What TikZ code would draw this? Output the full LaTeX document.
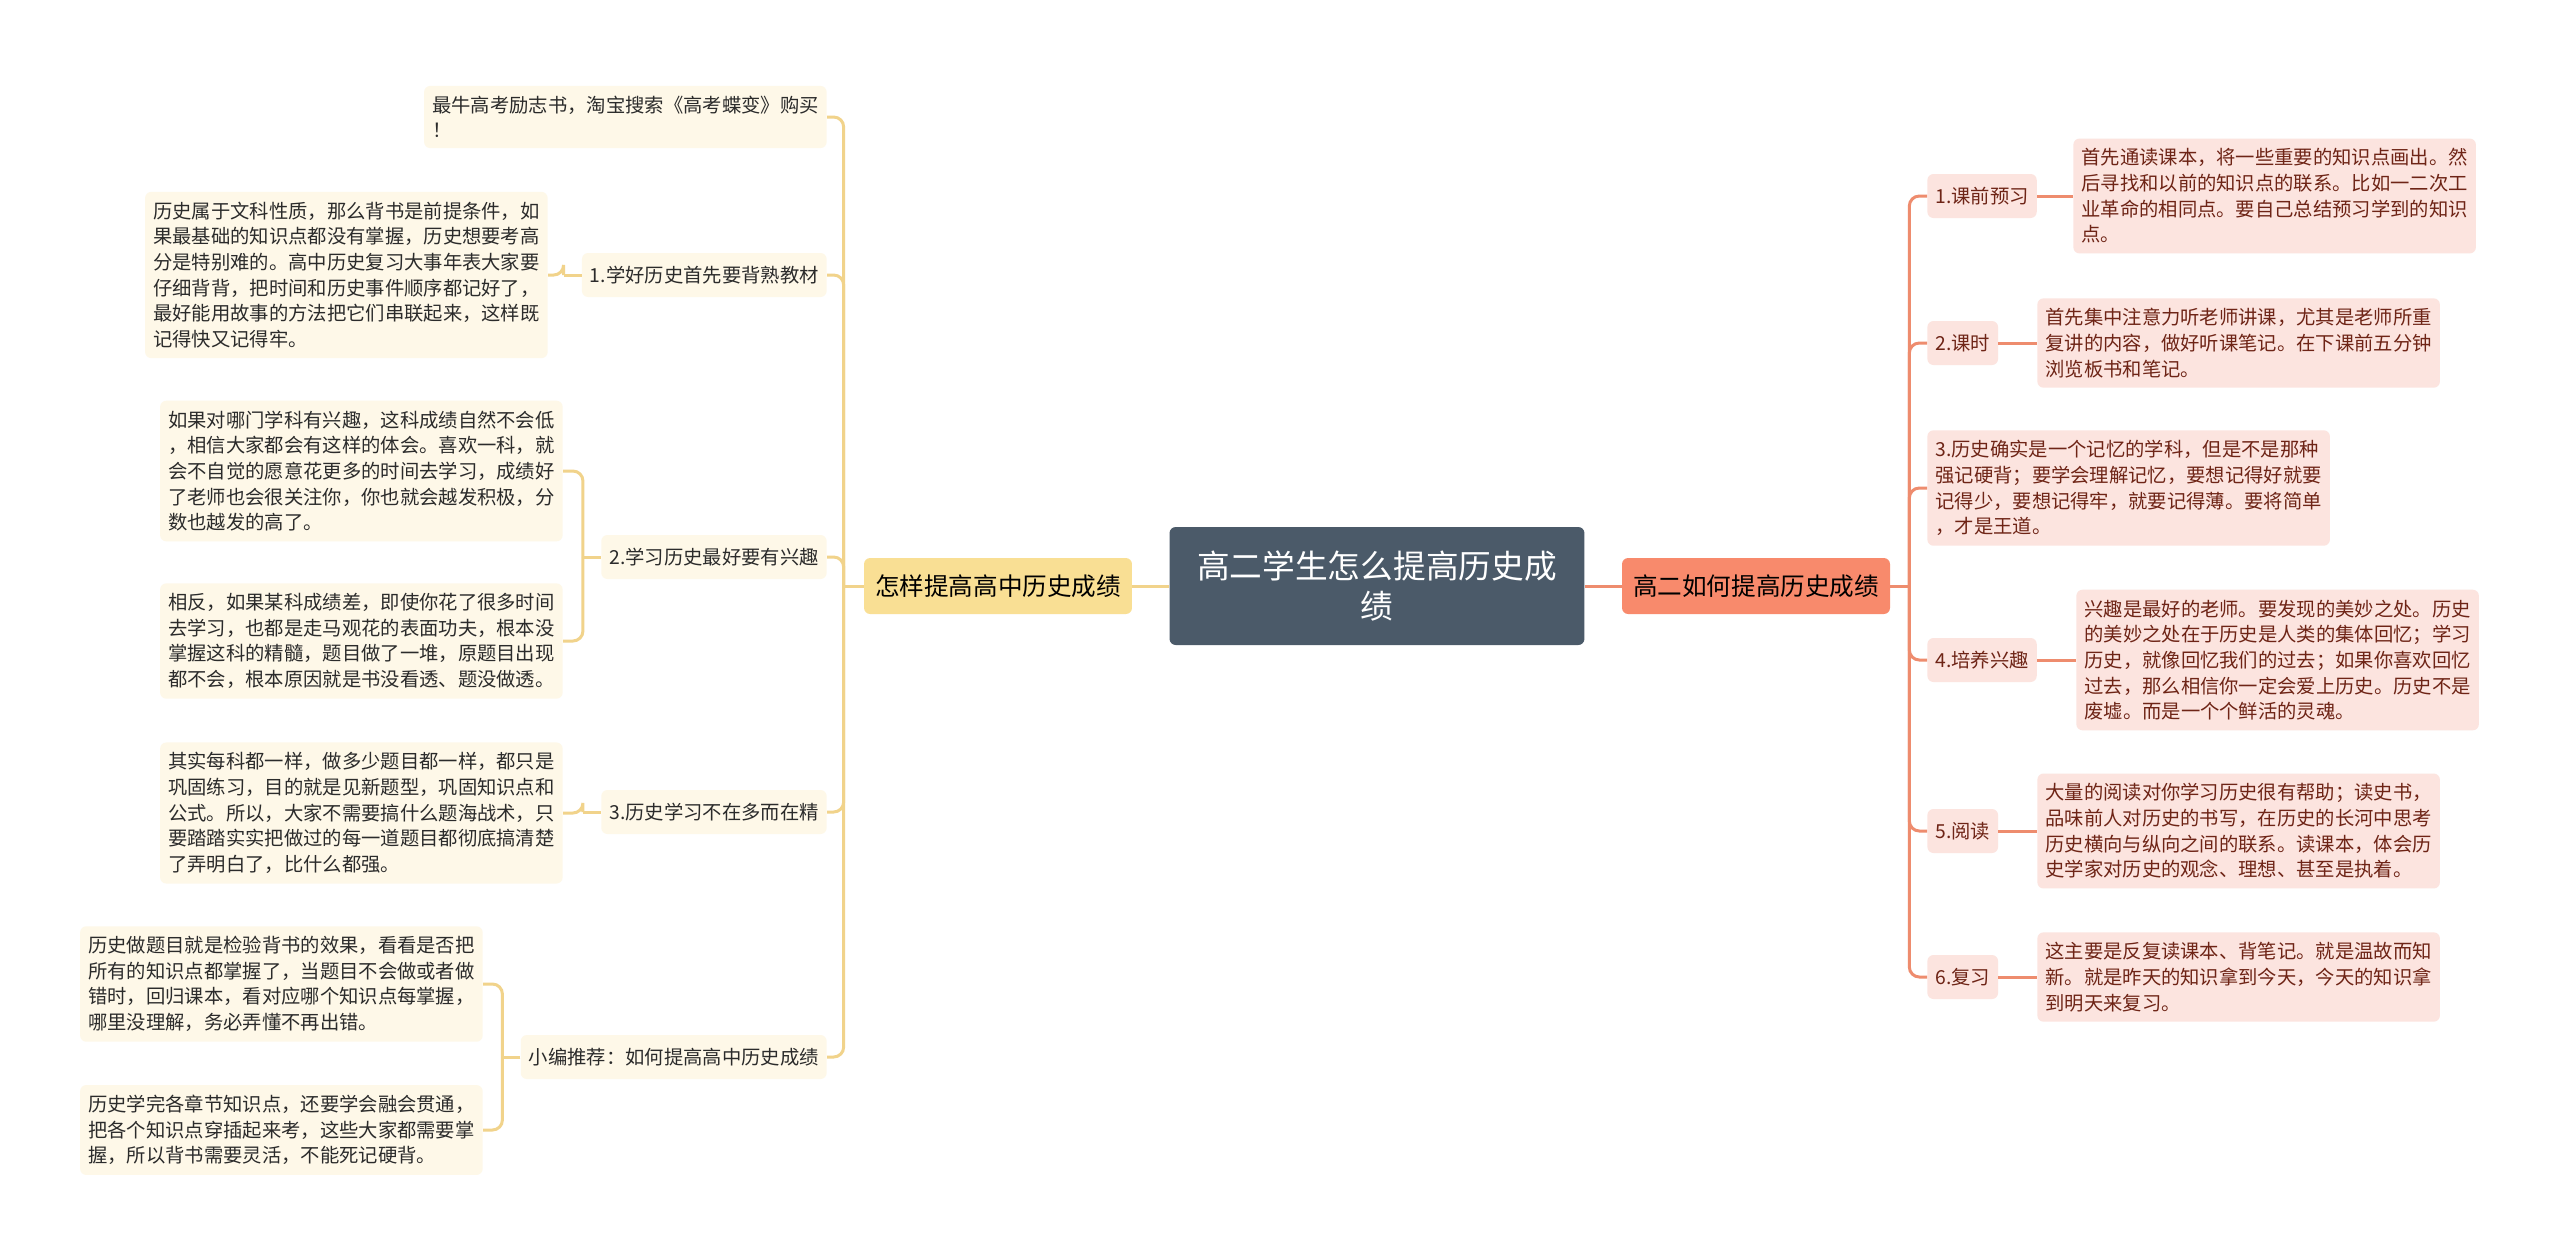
\documentclass[tikz,border=0pt]{standalone}
\usepackage{fontspec}
\setmainfont{Noto Sans CJK SC}
\definecolor{rootfill}{HTML}{4B5A69}
\definecolor{lmainfill}{HTML}{F9DF94}
\definecolor{lfill}{HTML}{FEF8E8}
\definecolor{lcol}{HTML}{F1D38B}
\definecolor{ltext}{HTML}{2B2B2B}
\definecolor{rmainfill}{HTML}{F88A6C}
\definecolor{rfill}{HTML}{FCE4DF}
\definecolor{rcol}{HTML}{EE8C6E}
\definecolor{rtext}{HTML}{6E2416}
\tikzset{box/.style={rounded corners=3.5pt,inner xsep=0.16cm,inner ysep=0.2cm,align=left,font=\fontsize{11}{14.6}\selectfont},
         lleaf/.style={box,fill=lfill,text=ltext},
         lsub/.style={lleaf,minimum height=0.88cm},
         rleaf/.style={box,fill=rfill,text=rtext},
         rsub/.style={rleaf,minimum height=0.88cm},
         topic/.style={rounded corners=3.5pt,inner xsep=0.22cm,minimum height=1.12cm,font=\fontsize{14}{17}\selectfont},
         root/.style={fill=rootfill,text=white,rounded corners=3.5pt,minimum width=8.3cm,minimum height=2.36cm,align=center,font=\fontsize{18.6}{23.2}\selectfont},
         lline/.style={draw=lcol,line width=1.7pt},
         rline/.style={draw=rcol,line width=1.7pt},
        }
\begin{document}
\begin{tikzpicture}[x=0.02cm,y=-0.02cm]
        \fill[white](0,0)rectangle(2560,1259);
        \useasboundingbox(0,0)rectangle(2560,1259);
        \node[root](root)at(1377,586){高二学生怎么提高历史成\\绩};
        \node[topic,fill=lmainfill,text=black](lmain)at(998,586){怎样提高高中历史成绩};
        \node[topic,fill=rmainfill,text=black](rmain)at(1756,586){高二如何提高历史成绩};

        \node[lleaf,anchor=east](l0)at(827,117){最牛高考励志书，淘宝搜索《高考蝶变》购买\\！};
        \node[lsub,anchor=east](l1)at(827,275){1.学好历史首先要背熟教材};
        \node[lsub,anchor=east](l2)at(827,557){2.学习历史最好要有兴趣};
        \node[lsub,anchor=east](l3)at(827,812){3.历史学习不在多而在精};
        \node[lsub,anchor=east](l4)at(827,1057){小编推荐：如何提高高中历史成绩};
        \node[lleaf,anchor=east](l1a)at(548,275){历史属于文科性质，那么背书是前提条件，如\\果最基础的知识点都没有掌握，历史想要考高\\分是特别难的。高中历史复习大事年表大家要\\仔细背背，把时间和历史事件顺序都记好了，\\最好能用故事的方法把它们串联起来，这样既\\记得快又记得牢。};
        \node[lleaf,anchor=east](l2a)at(563,471){如果对哪门学科有兴趣，这科成绩自然不会低\\，相信大家都会有这样的体会。喜欢一科，就\\会不自觉的愿意花更多的时间去学习，成绩好\\了老师也会很关注你，你也就会越发积极，分\\数也越发的高了。};
        \node[lleaf,anchor=east](l2b)at(563,641){相反，如果某科成绩差，即使你花了很多时间\\去学习，也都是走马观花的表面功夫，根本没\\掌握这科的精髓，题目做了一堆，原题目出现\\都不会，根本原因就是书没看透、题没做透。};
        \node[lleaf,anchor=east](l3a)at(563,813){其实每科都一样，做多少题目都一样，都只是\\巩固练习，目的就是见新题型，巩固知识点和\\公式。所以，大家不需要搞什么题海战术，只\\要踏踏实实把做过的每一道题目都彻底搞清楚\\了弄明白了，比什么都强。};
        \node[lleaf,anchor=east](l4a)at(483,984){历史做题目就是检验背书的效果，看看是否把\\所有的知识点都掌握了，当题目不会做或者做\\错时，回归课本，看对应哪个知识点每掌握，\\哪里没理解，务必弄懂不再出错。};
        \node[lleaf,anchor=east](l4b)at(483,1130){历史学完各章节知识点，还要学会融会贯通，\\把各个知识点穿插起来考，这些大家都需要掌\\握，所以背书需要灵活，不能死记硬背。};

        \node[rsub,anchor=west](r1)at(1927,196){1.课前预习};
        \node[rsub,anchor=west](r2)at(1927,343){2.课时};
        \node[rleaf,anchor=west](r3)at(1927,488){3.历史确实是一个记忆的学科，但是不是那种\\强记硬背；要学会理解记忆，要想记得好就要\\记得少，要想记得牢，就要记得薄。要将简单\\，才是王道。};
        \node[rsub,anchor=west](r4)at(1927,660){4.培养兴趣};
        \node[rsub,anchor=west](r5)at(1927,831){5.阅读};
        \node[rsub,anchor=west](r6)at(1927,977){6.复习};
        \node[rleaf,anchor=west](r1a)at(2073,196){首先通读课本，将一些重要的知识点画出。然\\后寻找和以前的知识点的联系。比如一二次工\\业革命的相同点。要自己总结预习学到的知识\\点。};
        \node[rleaf,anchor=west](r2a)at(2037,343){首先集中注意力听老师讲课，尤其是老师所重\\复讲的内容，做好听课笔记。在下课前五分钟\\浏览板书和笔记。};
        \node[rleaf,anchor=west](r4a)at(2076,660){兴趣是最好的老师。要发现的美妙之处。历史\\的美妙之处在于历史是人类的集体回忆；学习\\历史，就像回忆我们的过去；如果你喜欢回忆\\过去，那么相信你一定会爱上历史。历史不是\\废墟。而是一个个鲜活的灵魂。};
        \node[rleaf,anchor=west](r5a)at(2037,831){大量的阅读对你学习历史很有帮助；读史书，\\品味前人对历史的书写，在历史的长河中思考\\历史横向与纵向之间的联系。读课本，体会历\\史学家对历史的观念、理想、甚至是执着。};
        \node[rleaf,anchor=west](r6a)at(2037,977){这主要是反复读课本、背笔记。就是温故而知\\新。就是昨天的知识拿到今天，今天的知识拿\\到明天来复习。};

        \draw[lline](root.west)--(lmain.east);
        \draw[rline](root.east)--(rmain.west);
        \draw[lline](lmain.west)--++(-20,0)coordinate(lfork);
        \foreach \c in {l0,l1,l2,l3,l4}
            \draw[lline,rounded corners=0.2cm](lfork)|-(\c.east);
        \draw[rline](rmain.east)--++(19,0)coordinate(rfork);
        \foreach \c in {r1,r2,r3,r4,r5,r6}
            \draw[rline,rounded corners=0.2cm](rfork)|-(\c.west);
        \foreach \p/\c in {l1/l1a,l2/l2a,l2/l2b,l3/l3a,l4/l4a,l4/l4b}{
            \draw[lline](\p.west)--++(-18,0)coordinate(fk);
            \draw[lline,rounded corners=0.2cm](fk)|-(\c.east);
        }
        \foreach \p/\c in {r1/r1a,r2/r2a,r4/r4a,r5/r5a,r6/r6a}
            \draw[rline](\p.east)--(\c.west);
    \end{tikzpicture}
\end{document}
